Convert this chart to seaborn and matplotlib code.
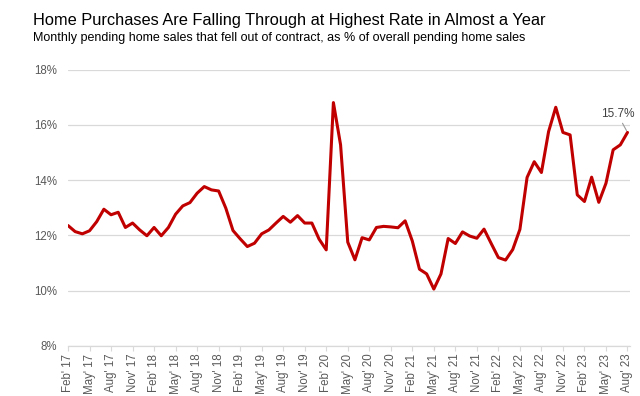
import matplotlib
matplotlib.use("Agg")
import matplotlib.pyplot as plt
import seaborn as sns
import pandas as pd

values = [12.36, 12.14, 12.06, 12.17, 12.50, 12.95, 12.75, 12.84, 12.29, 12.45,
          12.20, 11.99, 12.29, 11.99, 12.29, 12.77, 13.07, 13.19, 13.53, 13.77,
          13.65, 13.61, 12.99, 12.18, 11.88, 11.60, 11.72, 12.06, 12.20, 12.45,
          12.69, 12.48, 12.72, 12.45, 12.45, 11.87, 11.48, 16.81, 15.28, 11.76,
          11.12, 11.92, 11.84, 12.29, 12.33, 12.31, 12.28, 12.53, 11.80, 10.78,
          10.61, 10.06, 10.61, 11.89, 11.71, 12.13, 11.98, 11.90, 12.23, 11.71,
          11.20, 11.11, 11.49, 12.22, 14.10, 14.67, 14.28, 15.76, 16.64, 15.73,
          15.64, 13.47, 13.23, 14.11, 13.20, 13.89, 15.10, 15.28, 15.73]
month_index = list(range(len(values)))
tick_labels = ["Feb' 17", "May' 17", "Aug' 17", "Nov' 17",
               "Feb' 18", "May' 18", "Aug' 18", "Nov' 18",
               "Feb' 19", "May' 19", "Aug' 19", "Nov' 19",
               "Feb' 20", "May' 20", "Aug' 20", "Nov' 20",
               "Feb' 21", "May' 21", "Aug' 21", "Nov' 21",
               "Feb' 22", "May' 22", "Aug' 22", "Nov' 22",
               "Feb' 23", "May' 23", "Aug' 23"]
y_ticks = [8, 10, 12, 14, 16, 18]
last_label = "15.7%"

sns.set_theme(style="white")
plt.rcParams['font.family'] = ['Liberation Sans', 'DejaVu Sans']

df = pd.DataFrame({"month": month_index, "pct": values})

fig = plt.figure(figsize=(6.4, 3.96), dpi=100)
ax = fig.add_axes([68/640, 1-346/396, 562/640, (346-69.7)/396])

sns.lineplot(data=df, x="month", y="pct", ax=ax, color="#C00000", linewidth=2.2)

ax.set_ylim(8, 18)
ax.set_xlim(0, len(values) - 1 + 0.35)
ax.set_yticks(y_ticks)
ax.set_yticklabels([f"{v}%" for v in y_ticks])
ax.set_xticks(month_index[::3])
ax.set_xticklabels(tick_labels, rotation=90)
ax.set_xlabel("")
ax.set_ylabel("")

ax.grid(axis="y", color="#D9D9D9", linewidth=0.9)
ax.grid(axis="x", visible=False)
for s in ["top", "right", "left"]:
    ax.spines[s].set_visible(False)
ax.spines["bottom"].set_color("#D9D9D9")
ax.spines["bottom"].set_linewidth(0.9)
ax.tick_params(axis="y", length=0, pad=8, labelsize=8.3, labelcolor="#595959")
ax.tick_params(axis="x", length=3.5, width=0.8, color="#D9D9D9", direction="out",
               pad=2, labelsize=8.3, labelcolor="#595959", bottom=True)

xl, yl = month_index[-1], values[-1]
ax.annotate(last_label, xy=(xl, yl), xytext=(xl - 1.4, yl + 0.45),
            ha="center", va="bottom", fontsize=8.5, color="#404040",
            arrowprops=dict(arrowstyle="-", color="#999999", lw=0.8,
                            shrinkA=0, shrinkB=1.5),
            annotation_clip=False)

fig.text(33/640, 1-21/396, "Home Purchases Are Falling Through at Highest Rate in Almost a Year",
         fontsize=11.8, color="black", va="center", ha="left")
fig.text(33/640, 1-38.5/396, "Monthly pending home sales that fell out of contract, as % of overall pending home sales",
         fontsize=9.0, color="black", va="center", ha="left")

fig.savefig("out.png", dpi=100)
